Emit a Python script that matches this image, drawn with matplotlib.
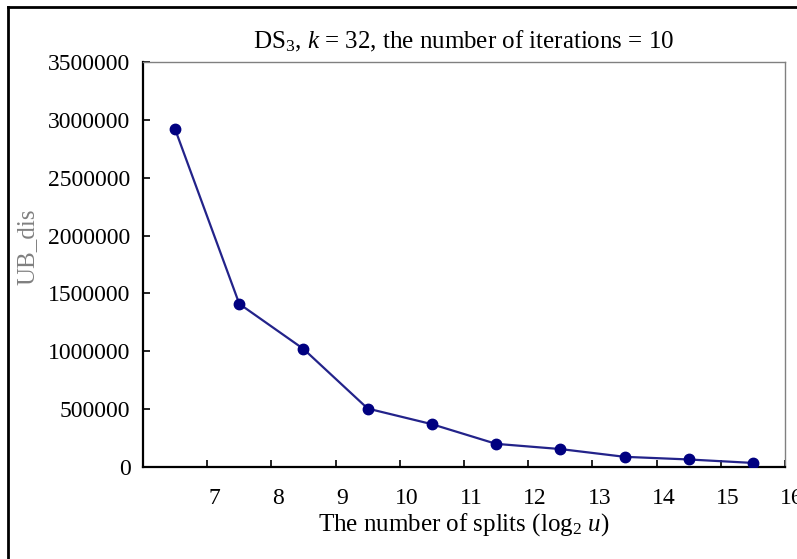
import matplotlib
matplotlib.use("Agg")
import matplotlib.pyplot as plt
import matplotlib.transforms as mtransforms
from matplotlib.lines import Line2D

# values
SPLITS = [6.5, 7.5, 8.5, 9.5, 10.5, 11.5, 12.5, 13.5, 14.5, 15.5]
UB_DIS = [2920000, 1410000, 1020000, 505000, 370000, 200000, 155000, 88000, 65000, 35000]
X_TICKS = [7, 8, 9, 10, 11, 12, 13, 14, 15, 16]
Y_TICKS = [0, 500000, 1000000, 1500000, 2000000, 2500000, 3000000, 3500000]

TITLE = r"DS$_3$, $k$ = 32, the number of iterations = 10"
XLABEL = r"The number of splits (log$_2$ $u$)"
YLABEL = "UB_dis"

plt.rcParams["font.family"] = ["Liberation Serif", "DejaVu Serif"]
plt.rcParams["mathtext.fontset"] = "custom"
plt.rcParams["mathtext.rm"] = "Liberation Serif"
plt.rcParams["mathtext.it"] = "Liberation Serif:italic"

fig = plt.figure(figsize=(7.97, 5.59), dpi=100)
ax = fig.add_axes([0.1794, 0.1646, 0.985 - 0.1794, 0.889 - 0.1646])

ax.plot(SPLITS, UB_DIS, color="#23238a", lw=1.6, marker="o", ms=7.5,
        mfc="#000080", mec="#000080", zorder=3)

ax.set_xlim(6, 16)
ax.set_ylim(0, 3500000)
ax.set_xticks(X_TICKS)
ax.set_yticks(Y_TICKS)
ax.set_yticklabels([str(v) for v in Y_TICKS])
ax.tick_params(direction="in", length=5, width=1.2, labelsize=17, pad=9)
ax.tick_params(axis="x", pad=15)

# x labels sit a bit right of their ticks in the original
shift = mtransforms.ScaledTranslation(7 / 100, 0, fig.dpi_scale_trans)
for lab in ax.get_xticklabels():
    lab.set_transform(lab.get_transform() + shift)

for side in ("left", "bottom"):
    ax.spines[side].set_linewidth(1.6)
    ax.spines[side].set_color("black")
for side in ("top", "right"):
    ax.spines[side].set_linewidth(1.0)
    ax.spines[side].set_color("#808080")

ax.set_title(TITLE, fontsize=18, pad=10)
ax.set_xlabel(XLABEL, fontsize=18, labelpad=2)
ax.set_ylabel(YLABEL, fontsize=18, color="#808080")
ax.yaxis.set_label_coords(-0.163, 0.545)

# outer frame of the original image
fig.add_artist(Line2D([8 / 797, 8 / 797], [0, 1 - 7 / 559], color="black", lw=2))
fig.add_artist(Line2D([8 / 797, 1], [1 - 7 / 559, 1 - 7 / 559], color="black", lw=2))

fig.savefig("out.png", dpi=100)
